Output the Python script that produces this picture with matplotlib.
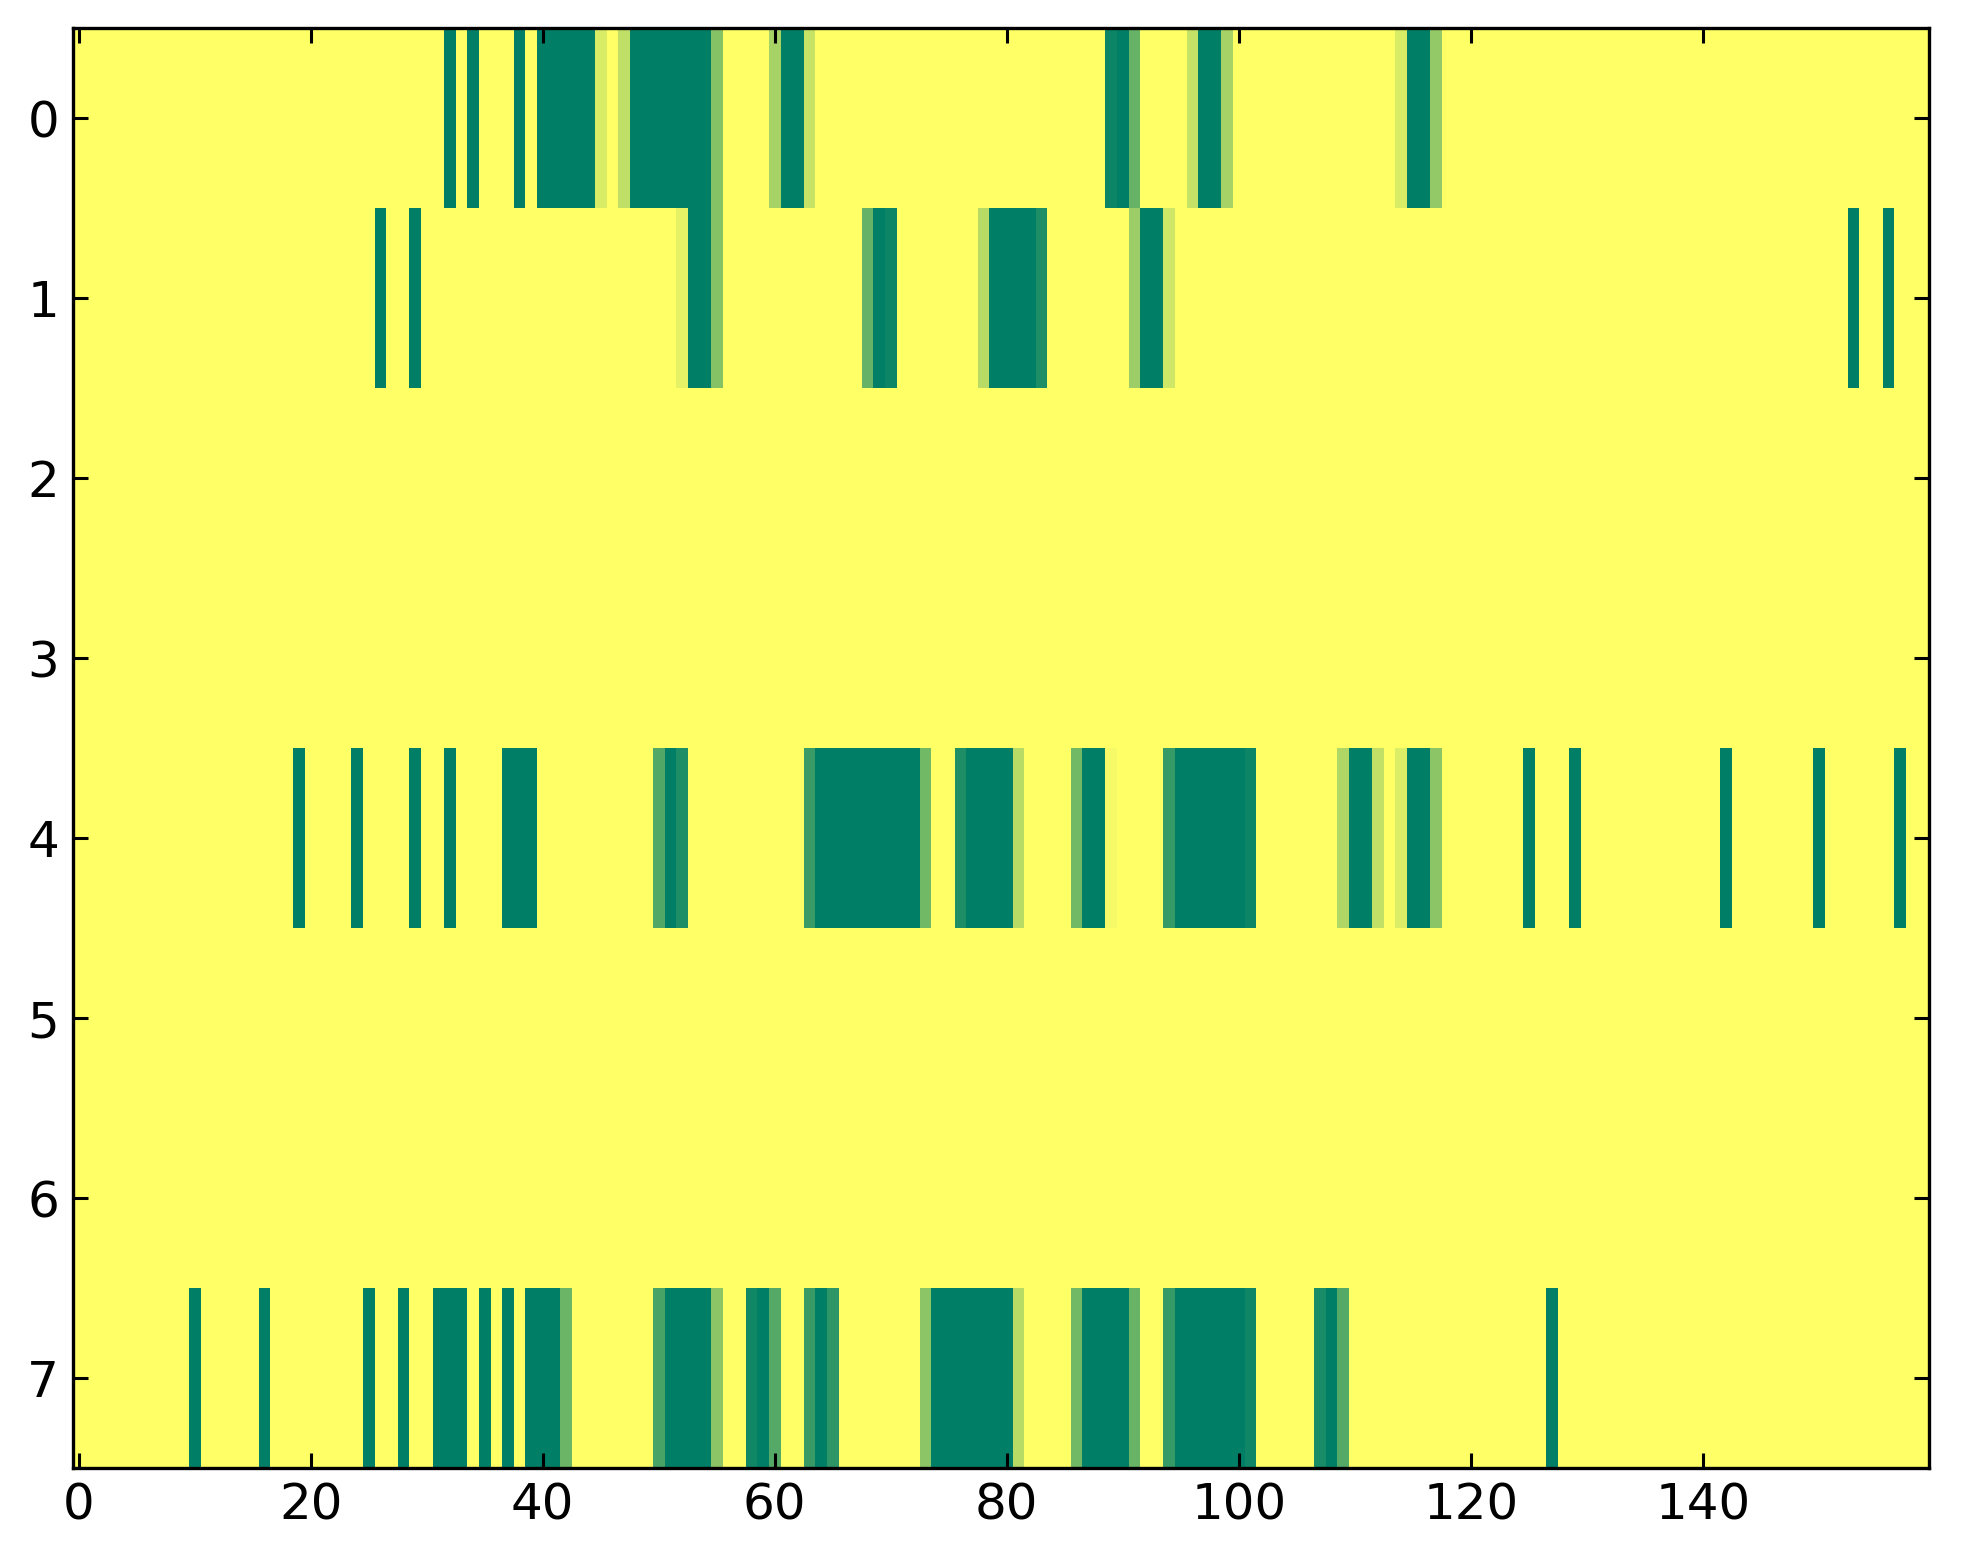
import numpy as np
import matplotlib
matplotlib.use("Agg")
import matplotlib.pyplot as plt

n_rows = 8
n_cols = 160

# non-zero cells per row: (first column, last column, value)
row0 = [(32, 32, 1), (34, 34, 1), (38, 38, 1), (40, 44, 1), (45, 45, 0.15),
        (47, 47, 0.25), (48, 54, 1), (55, 55, 0.48), (60, 60, 0.35), (61, 62, 1),
        (63, 63, 0.22), (89, 89, 0.95), (90, 90, 1), (91, 91, 0.6), (96, 96, 0.23),
        (97, 98, 1), (99, 99, 0.35), (114, 114, 0.15), (115, 116, 1), (117, 117, 0.42)]
row1 = [(26, 26, 1), (29, 29, 1), (52, 52, 0.1), (53, 54, 1), (55, 55, 0.48),
        (68, 68, 0.6), (69, 69, 1), (70, 70, 0.95), (78, 78, 0.28), (79, 82, 1),
        (83, 83, 0.88), (91, 91, 0.39), (92, 93, 1), (94, 94, 0.19),
        (153, 153, 1), (156, 156, 1)]
row4 = [(19, 19, 1), (24, 24, 1), (29, 29, 1), (32, 32, 1), (37, 39, 1),
        (50, 50, 0.68), (51, 51, 1), (52, 52, 0.88), (63, 63, 0.77), (64, 72, 1),
        (73, 73, 0.55), (76, 76, 0.88), (77, 80, 1), (81, 81, 0.28), (86, 86, 0.55),
        (87, 88, 1), (89, 89, 0.04), (94, 94, 0.79), (95, 100, 1), (101, 101, 0.95),
        (109, 109, 0.31), (110, 111, 1), (112, 112, 0.24), (114, 114, 0.14),
        (115, 116, 1), (117, 117, 0.45), (125, 125, 1), (129, 129, 1),
        (142, 142, 1), (150, 150, 1), (157, 157, 1)]
row7 = [(10, 10, 1), (16, 16, 1), (25, 25, 1), (28, 28, 1), (31, 33, 1),
        (35, 35, 1), (37, 37, 1), (39, 41, 1), (42, 42, 0.58), (50, 50, 0.72),
        (51, 54, 1), (55, 55, 0.45), (58, 58, 0.93), (59, 59, 1), (60, 60, 0.67),
        (63, 63, 0.78), (64, 64, 1), (65, 65, 0.82), (73, 73, 0.45), (74, 80, 1),
        (81, 81, 0.28), (86, 86, 0.55), (87, 90, 1), (91, 91, 0.59), (94, 94, 0.79),
        (95, 100, 1), (101, 101, 0.94), (107, 107, 0.9), (108, 108, 1),
        (109, 109, 0.67), (127, 127, 1)]
rows = {0: row0, 1: row1, 4: row4, 7: row7}

data = np.zeros((n_rows, n_cols))
for r, runs in rows.items():
    for a, b, v in runs:
        data[r, a:b + 1] = v

fig = plt.figure(figsize=(1963 / 200, 1564 / 200), dpi=200)
ax = fig.add_axes([73 / 1963, 1 - 1468 / 1564, (1929 - 73) / 1963, (1468 - 28) / 1564])
ax.imshow(data, cmap="summer_r", vmin=0, vmax=1, interpolation="nearest", aspect="auto")

ax.set_xticks(np.arange(0, 141, 20))
ax.set_yticks(np.arange(0, 8))
ax.tick_params(direction="in", top=True, right=True, length=5.5, width=1.1,
               labelsize=18, pad=5)
for s in ax.spines.values():
    s.set_linewidth(1.2)

fig.savefig("out.png", dpi=200)
